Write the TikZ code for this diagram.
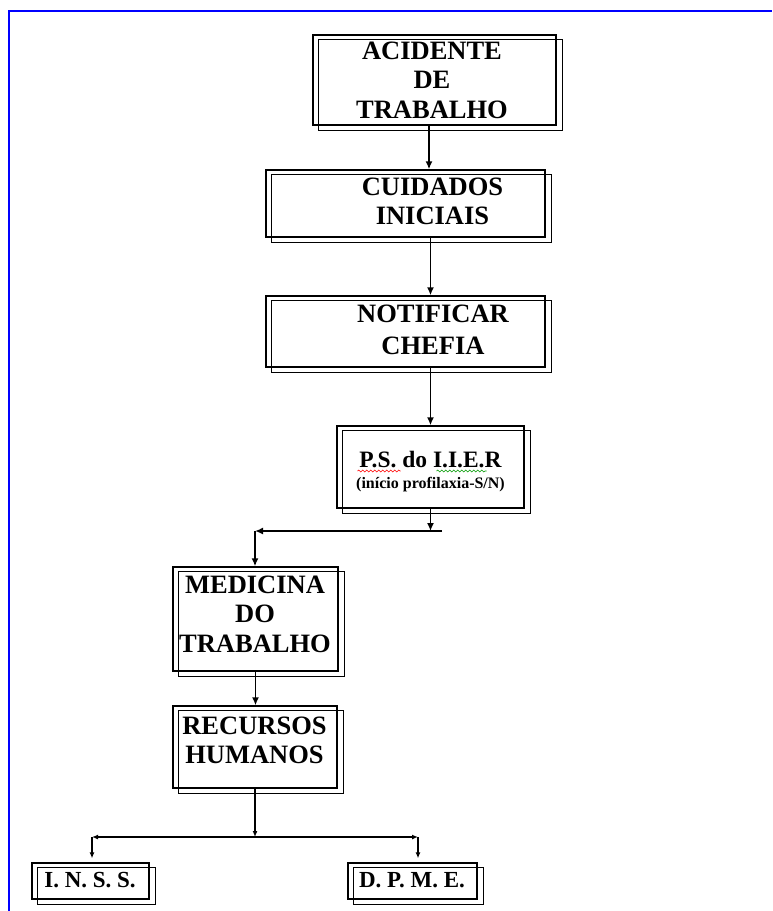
\documentclass[tikz,border=0pt]{standalone}
\usepackage{fontspec}
\setmainfont{Liberation Serif}
\usetikzlibrary{arrows.meta,decorations.pathmorphing}

\tikzset{
  boite/.style={draw, line width=1.3pt, inner sep=0pt},
  titre/.style={font=\bfseries\fontsize{26.5}{29.5}\selectfont, align=center, inner sep=0pt, anchor=base},
  fleche/.style={line width=1.6pt, ->},
  petite/.style={line width=1.2pt, -{Latex[length=6pt,width=5pt]}},
  souligne/.style={line width=.6pt, decorate, decoration={snake, segment length=4pt, amplitude=.9pt}}
}
\newcommand{\doublecadre}[1]{\draw [line width=1.3pt] ([shift={(6,5)}]#1.south west) rectangle ([shift={(6,5)}]#1.north east);}

\begin{document}
\begin{tikzpicture}[x=1pt, y=-1pt, >={Latex[length=8pt,width=7pt]}]
  % \draw [help lines] (0,0) grid [step=50] (772,911);
  \useasboundingbox (0,0) rectangle (772,911);
  \draw [blue, line width=2pt] (9,911) -- (9,11) -- (772,11);

  % les boites (base = derniere ligne)
  \node [boite, minimum width=243pt, minimum height=90pt] (acid) at (434.5,80) {}; \doublecadre{acid}
  \node [titre] (acidtxt) at (432,118) {ACIDENTE\\DE\\TRABALHO};

  \node [boite, minimum width=279pt, minimum height=67pt] (cuid) at (405.5,203.5) {}; \doublecadre{cuid}
  \node [titre] (cuidtxt) at (432.5,224.5) {CUIDADOS\\INICIAIS};

  \node [boite, minimum width=279pt, minimum height=71pt] (noti) at (405.5,331.5) {}; \doublecadre{noti}
  \node [titre] (notitxt) at (433,354) {NOTIFICAR\\[2pt]CHEFIA};

  \node [boite, minimum width=187pt, minimum height=82pt] (ps) at (430.5,467) {}; \doublecadre{ps}
  \node [titre, font=\bfseries\fontsize{16}{21.5}\selectfont] (pstxt) at (430.5,488.5) {{\fontsize{23.5}{26}\selectfont P.S. do I.I.E.R}\\(início profilaxia-S/N)};
  \draw [souligne, red] ([shift={(-73,-17.5)}]pstxt.base) -- ([shift={(-30,-17.5)}]pstxt.base);
  \draw [souligne, green!60!black] ([shift={(6,-17.5)}]pstxt.base) -- ([shift={(56,-17.5)}]pstxt.base);

  \node [boite, minimum width=165pt, minimum height=104pt] (medi) at (255.5,619) {}; \doublecadre{medi}
  \node [titre] (meditxt) at (255,652) {MEDICINA\\DO\\TRABALHO};

  \node [boite, minimum width=164pt, minimum height=82pt] (recu) at (255,747) {}; \doublecadre{recu}
  \node [titre] (recutxt) at (254.5,763.5) {RECURSOS\\HUMANOS};

  \node [boite, minimum width=117pt, minimum height=36pt] (inss) at (90.5,881) {}; \doublecadre{inss}
  \node [titre, font=\bfseries\fontsize{23}{26}\selectfont] (insstxt) at (90,887) {I. N. S. S.};

  \node [boite, minimum width=129pt, minimum height=36pt] (dpme) at (412.5,881) {}; \doublecadre{dpme}
  \node [titre, font=\bfseries\fontsize{23}{26}\selectfont] (dpmetxt) at (412,887) {D. P. M. E.};

  % les fleches
  \draw [fleche] ([xshift=-5.5pt]acid.south) -- ([xshift=-5.5pt]acid.south |- cuid.north);
  \draw [fleche] ([xshift=25pt]cuid.south) -- ([xshift=25pt]cuid.south |- noti.north);
  \draw [fleche] (noti.south -| ps.north) -- (ps.north);

  \coordinate (j1) at (442,531); \coordinate (j2) at (255,531);
  \draw [fleche] (ps.south) -- (ps.south |- j1);
  \draw [fleche] (j1) -- (j2);
  \draw [fleche] (j2) -- (j2 |- medi.north);
  \draw [fleche] (medi.south) -- (medi.south |- recu.north);

  \coordinate (j3) at (255,837); \coordinate (j4) at (92,837); \coordinate (j5) at (418,837);
  \draw [petite] (recu.south) -- (j3);
  \draw [petite] (j3) -- (j4); \draw [petite] (j3) -- (j5);
  \draw [petite, shorten >=4pt] (j4) -- (j4 |- inss.north);
  \draw [petite, shorten >=4pt] (j5) -- (j5 |- dpme.north);
\end{tikzpicture}
\end{document}
